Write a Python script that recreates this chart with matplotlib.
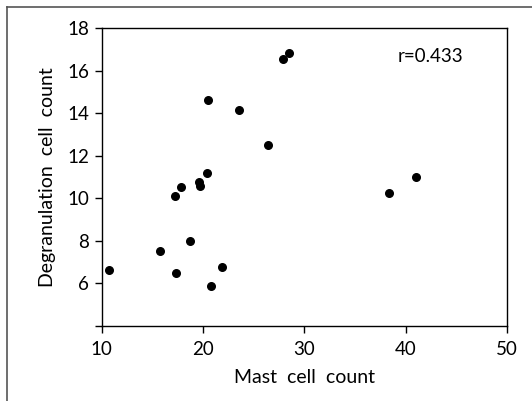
import matplotlib
matplotlib.use("Agg")
import matplotlib.pyplot as plt
from matplotlib.lines import Line2D

# Data
mast_cells = [10.7, 15.8, 17.3, 17.2, 17.8, 18.7, 19.6, 19.7, 20.4, 20.5,
              20.8, 21.9, 23.6, 26.4, 27.9, 28.5, 38.4, 41.0]
degranulation = [6.64, 7.54, 6.49, 10.13, 10.53, 7.98, 10.77, 10.58, 11.19, 14.63,
                 5.86, 6.77, 14.16, 12.51, 16.54, 16.84, 10.25, 11.02]
x_ticks = [10, 20, 30, 40, 50]
y_ticks = [6, 8, 10, 12, 14, 16, 18]
r_label = "r=0.433"

plt.rcParams['font.family'] = ['Lato', 'DejaVu Sans']

fig = plt.figure(figsize=(5.32, 4.01), dpi=100)
ax = fig.add_axes([0.191, 0.187, 0.762, 0.743])

ax.scatter(mast_cells, degranulation, s=30, color="black", zorder=3)

ax.set_xlim(10, 50)
ax.set_ylim(4, 18)
ax.set_xticks(x_ticks)
ax.set_yticks([4] + y_ticks)
ax.set_yticklabels([""] + [str(t) for t in y_ticks])
ax.tick_params(direction="out", length=5, width=1, labelsize=13.5)
ax.tick_params(axis="x", pad=6)
ax.tick_params(axis="y", pad=4)

for side in ax.spines.values():
    side.set_linewidth(1)

ax.set_xlabel("Mast  cell  count", fontsize=14, labelpad=8)
ax.set_ylabel("Degranulation  cell  count", fontsize=14, labelpad=8)

ax.text(42.4, 16.68, r_label, fontsize=13.5, ha="center", va="center")

# outer frame around the figure (left and top edges visible)
fig.add_artist(Line2D([7 / 532, 7 / 532], [0, 1 - 7 / 401], color="#555555", lw=1.2))
fig.add_artist(Line2D([7 / 532, 1], [1 - 7 / 401, 1 - 7 / 401], color="#555555", lw=1.2))

plt.savefig("out.png", dpi=100)
